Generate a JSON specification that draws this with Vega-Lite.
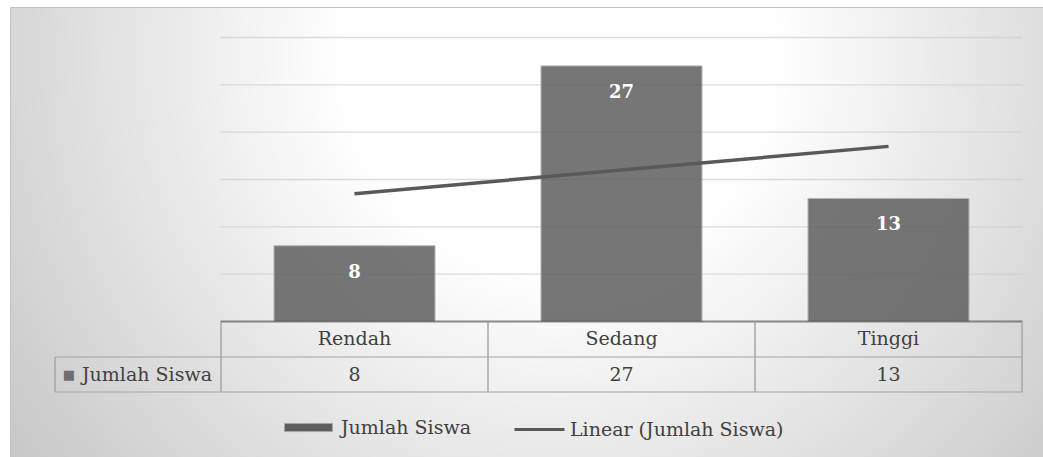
{
  "$schema": "https://vega.github.io/schema/vega-lite/v6.json",
  "width": 1043,
  "height": 457,
  "autosize": {"type": "fit", "contains": "padding"},
  "padding": {"left": 10, "top": 7, "right": 0, "bottom": 0},
  "background": "#ffffff",
  "config": {
    "font": "DejaVu Serif",
    "view": {
      "fill": {"gradient": "radial", "x1": 0.53, "y1": 0.33, "r1": 0, "x2": 0.53, "y2": 0.33, "r2": 0.68,
        "stops": [{"offset": 0, "color": "#ffffff"}, {"offset": 0.3, "color": "#ffffff"}, {"offset": 1, "color": "#c4c4c4"}]},
      "stroke": "#c2c2c2",
      "strokeWidth": 1
    }
  },
  "data": {
    "values": [
      {"kategori": "Rendah", "jumlah": 8, "tren": 13.5},
      {"kategori": "Sedang", "jumlah": 27, "tren": 16},
      {"kategori": "Tinggi", "jumlah": 13, "tren": 18.5}
    ]
  },
  "layer": [
    {
      "data": {"values": [{"v": 5}, {"v": 10}, {"v": 15}, {"v": 20}, {"v": 25}, {"v": 30}]},
      "mark": {"type": "tick", "size": 802, "thickness": 1.3, "color": "#cdcdcd"},
      "encoding": {
        "x": {"datum": "Sedang", "type": "nominal", "axis": null,
          "scale": {"type": "band", "domain": ["Rendah", "Sedang", "Tinggi"], "paddingInner": 0, "paddingOuter": 0.43446, "align": 0.90948}},
        "y": {"field": "v", "type": "quantitative", "axis": null,
          "scale": {"domain": [-14.313, 33.222], "nice": false, "zero": false}}
      }
    },
    {
      "mark": {"type": "bar", "width": {"band": 0.603}, "fillOpacity": 0.85, "stroke": "#b4b4b4", "strokeWidth": 1},
      "encoding": {
        "x": {"field": "kategori", "type": "nominal", "axis": null,
          "scale": {"type": "band", "domain": ["Rendah", "Sedang", "Tinggi"], "paddingInner": 0, "paddingOuter": 0.43446, "align": 0.90948}},
        "y": {"field": "jumlah", "type": "quantitative", "axis": null,
          "scale": {"domain": [-14.313, 33.222], "nice": false, "zero": false}},
        "fill": {
          "datum": "Jumlah Siswa",
          "type": "nominal",
          "scale": {"domain": ["Jumlah Siswa"], "range": ["#5e5e5e"]},
          "legend": {
            "orient": "none",
            "legendX": 274,
            "legendY": 396,
            "direction": "horizontal",
            "title": null,
            "padding": 0,
            "symbolType": "M-1,-0.17H1V0.17H-1Z",
            "symbolSize": 2304,
            "symbolStrokeColor": "#a6a6a6",
            "symbolStrokeWidth": 1,
            "symbolOpacity": 1,
            "labelFont": "DejaVu Serif",
            "labelFontSize": 19,
            "labelColor": "#404040",
            "labelOffset": 8,
            "labelLimit": 400
          }
        }
      }
    },
    {
      "mark": {"type": "line", "strokeWidth": 3.5},
      "encoding": {
        "x": {"field": "kategori", "type": "nominal"},
        "y": {"field": "tren", "type": "quantitative"},
        "stroke": {
          "datum": "Linear (Jumlah Siswa)",
          "type": "nominal",
          "scale": {"domain": ["Linear (Jumlah Siswa)"], "range": ["#595959"]},
          "legend": {
            "orient": "none",
            "legendX": 503,
            "legendY": 396,
            "direction": "horizontal",
            "title": null,
            "padding": 0,
            "symbolType": "stroke",
            "symbolSize": 2500,
            "symbolStrokeWidth": 3,
            "labelFont": "DejaVu Serif",
            "labelFontSize": 19,
            "labelColor": "#404040",
            "labelOffset": 4,
            "labelLimit": 400
          }
        }
      }
    },
    {
      "mark": {"type": "text", "font": "DejaVu Serif", "color": "#ffffff", "fontWeight": "bold", "fontSize": 18, "baseline": "middle", "dy": 27},
      "encoding": {
        "x": {"field": "kategori", "type": "nominal"},
        "y": {"field": "jumlah", "type": "quantitative"},
        "text": {"field": "jumlah", "type": "quantitative"}
      }
    },
    {
      "data": {"values": [{}]},
      "mark": {"type": "tick", "size": 802, "thickness": 2, "color": "#5a5a5a"},
      "encoding": {
        "x": {"datum": "Sedang", "type": "nominal"},
        "y": {"datum": 0, "type": "quantitative"}
      }
    },
    {
      "mark": {"type": "rule", "color": "#a6a6a6", "strokeWidth": 1.5},
      "encoding": {
        "x": {"field": "kategori", "type": "nominal", "bandPosition": 0},
        "y": {"datum": 0, "type": "quantitative"},
        "y2": {"datum": -7.447}
      }
    },
    {
      "data": {"values": [{}]},
      "mark": {"type": "rule", "color": "#a6a6a6", "strokeWidth": 1.5},
      "encoding": {
        "x": {"datum": "Tinggi", "type": "nominal", "bandPosition": 1},
        "y": {"datum": 0, "type": "quantitative"},
        "y2": {"datum": -7.447}
      }
    },
    {
      "data": {"values": [{}]},
      "mark": {"type": "rule", "color": "#a6a6a6", "strokeWidth": 1.5, "xOffset": -166},
      "encoding": {
        "x": {"datum": "Rendah", "type": "nominal", "bandPosition": 0},
        "y": {"datum": -3.75, "type": "quantitative"},
        "y2": {"datum": -7.447}
      }
    },
    {
      "data": {"values": [{}]},
      "mark": {"type": "tick", "size": 968, "thickness": 1.5, "color": "#a6a6a6", "xOffset": -82.5},
      "encoding": {
        "x": {"datum": "Sedang", "type": "nominal"},
        "y": {"datum": -3.75, "type": "quantitative"}
      }
    },
    {
      "data": {"values": [{}]},
      "mark": {"type": "tick", "size": 968, "thickness": 1.5, "color": "#a6a6a6", "xOffset": -82.5},
      "encoding": {
        "x": {"datum": "Sedang", "type": "nominal"},
        "y": {"datum": -7.447, "type": "quantitative"}
      }
    },
    {
      "mark": {"type": "text", "font": "DejaVu Serif", "color": "#404040", "fontSize": 19, "baseline": "middle"},
      "encoding": {
        "x": {"field": "kategori", "type": "nominal"},
        "y": {"datum": -1.9, "type": "quantitative"},
        "text": {"field": "kategori", "type": "nominal"}
      }
    },
    {
      "mark": {"type": "text", "font": "DejaVu Serif", "color": "#404040", "fontSize": 19, "baseline": "middle"},
      "encoding": {
        "x": {"field": "kategori", "type": "nominal"},
        "y": {"datum": -5.6, "type": "quantitative"},
        "text": {"field": "jumlah", "type": "quantitative"}
      }
    },
    {
      "data": {"values": [{}]},
      "mark": {"type": "text", "font": "DejaVu Serif", "color": "#404040", "fontSize": 19, "baseline": "middle", "align": "right", "dx": -9},
      "encoding": {
        "x": {"datum": "Rendah", "type": "nominal", "bandPosition": 0},
        "y": {"datum": -5.6, "type": "quantitative"},
        "text": {"value": "Jumlah Siswa"}
      }
    },
    {
      "data": {"values": [{}]},
      "mark": {"type": "text", "color": "#6e6e6e", "font": "DejaVu Sans", "fontSize": 13, "baseline": "middle", "align": "right", "dx": -146},
      "encoding": {
        "x": {"datum": "Rendah", "type": "nominal", "bandPosition": 0},
        "y": {"datum": -5.6, "type": "quantitative"},
        "text": {"value": "■"}
      }
    }
  ]
}
